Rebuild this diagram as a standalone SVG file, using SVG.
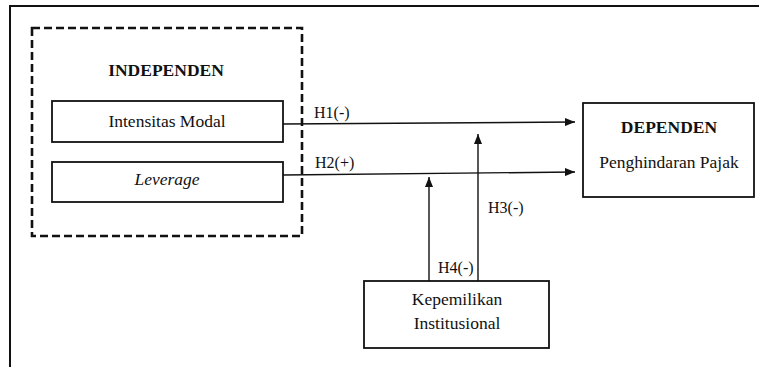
<svg xmlns="http://www.w3.org/2000/svg" width="759" height="367" viewBox="0 0 759 367">
<style>
text{font-family:'Liberation Serif','Times New Roman','DejaVu Serif',serif;fill:#111;}
.t{font-size:17.5px;text-anchor:middle;}
.b{font-weight:bold;}
.l{font-size:16px;}
.box{fill:#fff;stroke:#111;stroke-width:1.8;}
.ln{stroke:#111;stroke-width:1.4;fill:none;}
</style>
<defs>
<marker id="ah" viewBox="0 0 10 8" refX="10" refY="4" markerWidth="10" markerHeight="8" markerUnits="userSpaceOnUse" orient="auto">
<path d="M0,0 L10,4 L0,8 Z" fill="#111"/>
</marker>
</defs>
<rect width="759" height="367" fill="#fff"/>
<g id="frame">
<path d="M10,367 L10,6 L759,6" fill="none" stroke="#111" stroke-width="2"/>
</g>
<g id="independen-group">
<rect x="32" y="28" width="270" height="208" fill="none" stroke="#111" stroke-width="2.6" stroke-dasharray="8,4"/>
<text class="t b" x="166" y="76">INDEPENDEN</text>
</g>
<g id="connectors">
<line class="ln" x1="283" y1="124" x2="575" y2="122" marker-end="url(#ah)"/>
<line class="ln" x1="283" y1="175" x2="575" y2="172" marker-end="url(#ah)"/>
<line class="ln" x1="478" y1="281" x2="478" y2="134" marker-end="url(#ah)"/>
<line class="ln" x1="429" y1="281" x2="429" y2="177" marker-end="url(#ah)"/>
<text class="l" x="314" y="118">H1(-)</text>
<text class="l" x="315" y="168">H2(+)</text>
<text class="l" x="488" y="213">H3(-)</text>
<text class="l" x="438" y="273">H4(-)</text>
</g>
<g id="intensitas-modal">
<rect class="box" x="52" y="101" width="231" height="41"/>
<text class="t" x="167" y="127">Intensitas Modal</text>
</g>
<g id="leverage">
<rect class="box" x="52" y="162" width="231" height="40"/>
<text class="t" x="167" y="185" font-style="italic">Leverage</text>
</g>
<g id="dependen">
<rect class="box" x="583" y="103" width="171" height="94"/>
<text class="t b" x="669" y="133">DEPENDEN</text>
<text class="t" x="669" y="168">Penghindaran Pajak</text>
</g>
<g id="kepemilikan-institusional">
<rect class="box" x="364" y="281" width="185" height="67"/>
<text class="t" x="457" y="305">Kepemilikan</text>
<text class="t" x="457" y="329">Institusional</text>
</g>
</svg>
